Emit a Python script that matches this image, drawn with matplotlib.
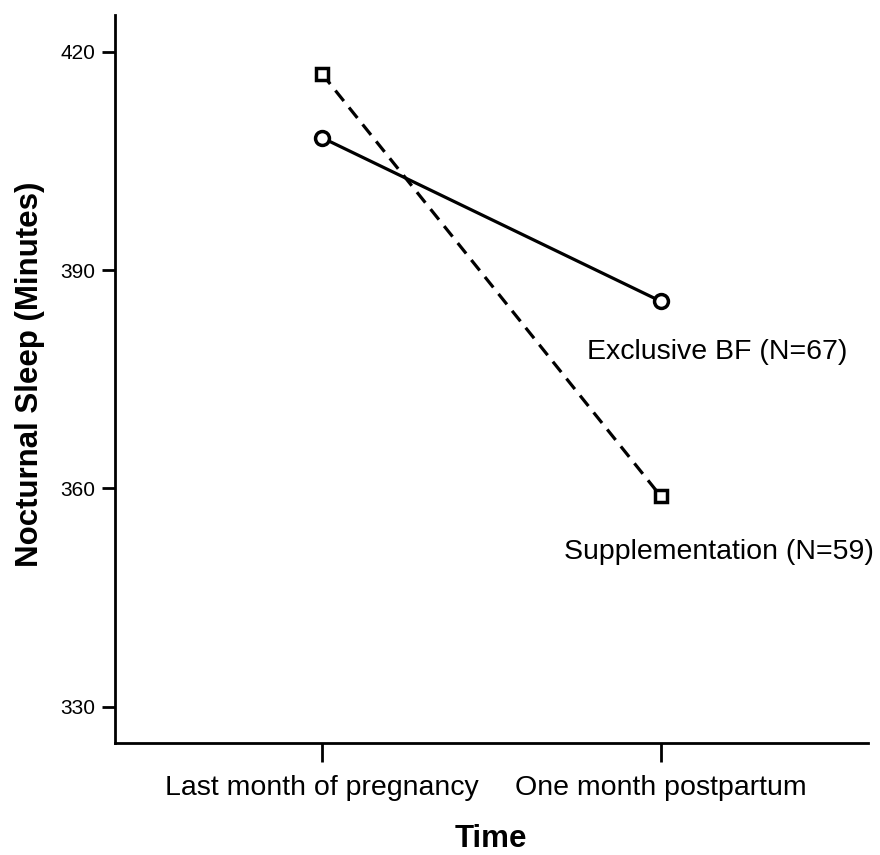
import matplotlib
matplotlib.use("Agg")
import matplotlib.pyplot as plt

# data
time_points = ["Last month of pregnancy", "One month postpartum"]
exclusive_bf = [408.2, 385.7]
supplementation = [417.0, 358.9]
y_ticks = [330, 360, 390, 420]

plt.rcParams['font.family'] = ['Liberation Sans', 'DejaVu Sans']

fig = plt.figure(figsize=(8.8, 8.55), dpi=100)
ax = fig.add_axes([0.1307, 0.131, 0.8553, 0.851])

x = [1, 2]
ax.plot(x, exclusive_bf, '-', color='black', lw=2.3, marker='o', ms=10,
        mfc='white', mec='black', mew=2.5)
ax.plot(x, supplementation, '--', color='black', lw=2.3, marker='s', ms=9,
        mfc='white', mec='black', mew=2.5, dashes=(4.2, 2.6))

ax.text(2.165, 378.8, "Exclusive BF (N=67)", ha='center', va='center', fontsize=20.5)
ax.text(2.17, 351.3, "Supplementation (N=59)", ha='center', va='center', fontsize=20.5)

ax.set_xlim(0.39, 2.61)
ax.set_ylim(325, 425)
ax.set_xticks(x)
ax.set_xticklabels(time_points, fontsize=20.5)
ax.set_yticks(y_ticks)
ax.tick_params(axis='y', labelsize=15, length=9.5, width=2, pad=5)
ax.tick_params(axis='x', length=13.7, width=2, pad=9)

ax.spines['top'].set_visible(False)
ax.spines['right'].set_visible(False)
ax.spines['left'].set_linewidth(2)
ax.spines['bottom'].set_linewidth(2)

ax.set_xlabel("Time", fontsize=22.5, fontweight='bold')
ax.set_ylabel("Nocturnal Sleep (Minutes)", fontsize=22.5, fontweight='bold')
ax.xaxis.set_label_coords(0.5, -0.112)
ax.yaxis.set_label_coords(-0.093, 0.507)

fig.savefig("out.png", dpi=100)
